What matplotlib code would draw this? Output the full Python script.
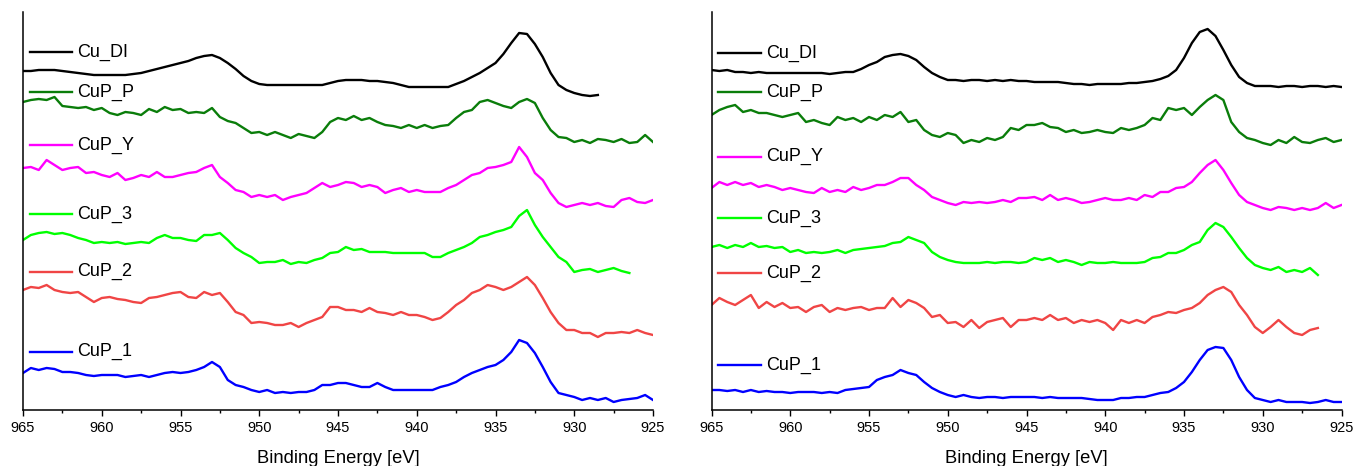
"""
XPS Cu 2p spectra, two panels, stacked with offsets.
"""

import numpy as np
import matplotlib
matplotlib.use('Agg')
import matplotlib.pyplot as plt

plt.rcParams['font.family'] = ['Liberation Sans', 'DejaVu Sans']

energy = np.linspace(965, 925, 81)

labels = ['Cu_DI', 'CuP_P', 'CuP_Y', 'CuP_3', 'CuP_2', 'CuP_1']
colors = ['#000000', '#0a7d0a', '#ff00ff', '#00ff00', '#f04545', '#0000ff']

# ---- left panel (intensity, a.u., stacked offset) ----
left_cu_di = [332, 332, 333, 333, 333, 332, 331, 330, 329, 328,
              328, 328, 328, 328, 329, 330, 332, 334, 336, 338,
              340, 342, 345, 347, 348, 345, 340, 334, 327, 322,
              319, 318, 318, 318, 318, 318, 318, 318, 318, 320,
              322, 323, 323, 323, 322, 322, 321, 320, 318, 316,
              316, 316, 316, 316, 316, 319, 322, 326, 330, 335,
              340, 349, 360, 370, 369, 359, 346, 330, 318, 313,
              310, 308, 307, 308]
left_cup_p = [301, 303, 304, 303, 306, 297, 296, 295, 296, 293,
              295, 290, 288, 291, 290, 288, 294, 291, 296, 293,
              294, 290, 291, 290, 295, 286, 282, 280, 275, 270,
              271, 268, 271, 268, 265, 269, 267, 265, 271, 281,
              285, 283, 287, 283, 285, 281, 278, 277, 275, 278,
              275, 278, 275, 277, 278, 285, 291, 293, 301, 303,
              300, 297, 295, 301, 304, 300, 285, 273, 266, 265,
              261, 263, 260, 264, 263, 261, 264, 260, 261, 268,
              261]
left_cup_y = [235, 236, 233, 243, 238, 233, 235, 236, 230, 231,
              228, 226, 230, 223, 225, 228, 226, 231, 226, 226,
              228, 230, 231, 235, 238, 226, 220, 213, 211, 206,
              208, 206, 208, 203, 206, 208, 210, 215, 220, 216,
              218, 221, 220, 216, 218, 216, 210, 213, 215, 211,
              213, 211, 211, 211, 215, 218, 223, 228, 230, 235,
              236, 238, 241, 256, 246, 230, 223, 210, 200, 196,
              198, 200, 198, 200, 197, 196, 203, 205, 201, 200,
              203]
left_cup_3 = [163, 168, 170, 171, 169, 170, 168, 165, 163, 160,
              161, 160, 161, 159, 160, 161, 160, 165, 168, 165,
              165, 163, 162, 168, 168, 170, 163, 155, 150, 146,
              140, 141, 141, 143, 139, 141, 140, 143, 145, 150,
              151, 156, 153, 154, 151, 151, 151, 150, 150, 150,
              150, 150, 146, 146, 150, 153, 156, 160, 166, 168,
              171, 173, 176, 187, 193, 178, 166, 156, 146, 141,
              131, 133, 134, 131, 133, 135, 132, 130]
left_cup_2 = [113, 116, 115, 118, 113, 111, 110, 111, 106, 101,
              105, 106, 104, 103, 101, 100, 105, 106, 108, 110,
              111, 106, 105, 111, 108, 110, 101, 91, 88, 80,
              81, 80, 78, 78, 80, 76, 80, 83, 86, 96,
              96, 93, 93, 91, 95, 91, 90, 88, 91, 88,
              88, 86, 83, 85, 91, 98, 103, 110, 113, 118,
              116, 113, 116, 121, 126, 118, 105, 91, 80, 73,
              73, 70, 70, 66, 70, 70, 71, 70, 73, 70,
              68]
left_cup_1 = [30, 35, 33, 35, 34, 31, 31, 30, 28, 27,
              28, 28, 28, 26, 27, 28, 26, 28, 30, 31,
              30, 31, 33, 36, 41, 36, 23, 18, 16, 13,
              11, 13, 10, 11, 10, 11, 11, 13, 18, 18,
              20, 20, 18, 16, 16, 20, 16, 13, 13, 13,
              13, 13, 13, 16, 18, 21, 26, 30, 33, 36,
              38, 43, 51, 63, 60, 50, 36, 21, 10, 8,
              6, 3, 5, 3, 5, 1, 3, 4, 5, 8,
              3]

# ---- right panel ----
right_cu_di = [333, 332, 333, 331, 331, 330, 331, 330, 330, 330,
               330, 330, 330, 330, 330, 329, 330, 331, 331, 334,
               338, 341, 346, 348, 349, 347, 343, 336, 330, 326,
               323, 323, 322, 323, 323, 322, 323, 322, 323, 322,
               322, 321, 321, 321, 321, 320, 319, 319, 318, 319,
               319, 319, 319, 320, 320, 321, 322, 324, 327, 333,
               345, 360, 371, 374, 367, 353, 338, 326, 320, 317,
               317, 317, 316, 317, 317, 316, 317, 317, 316, 317,
               316]
right_cup_p = [288, 293, 296, 298, 291, 293, 290, 290, 288, 286,
               288, 290, 281, 283, 280, 278, 286, 283, 285, 281,
               286, 283, 288, 286, 291, 281, 283, 273, 268, 266,
               270, 268, 260, 263, 261, 265, 263, 266, 275, 273,
               278, 278, 280, 276, 275, 271, 273, 270, 271, 273,
               271, 270, 275, 273, 275, 278, 285, 283, 295, 293,
               295, 288, 296, 303, 308, 303, 281, 271, 265, 263,
               260, 258, 263, 260, 266, 261, 260, 263, 265, 261,
               263]
right_cup_y = [215, 221, 218, 221, 218, 220, 216, 218, 216, 213,
               215, 213, 211, 210, 215, 211, 213, 211, 216, 213,
               215, 218, 218, 221, 225, 225, 218, 213, 206, 203,
               200, 198, 201, 200, 201, 200, 201, 203, 201, 205,
               205, 206, 203, 208, 203, 205, 203, 200, 201, 203,
               205, 203, 203, 205, 203, 208, 206, 211, 211, 215,
               216, 221, 230, 238, 243, 233, 220, 208, 201, 198,
               195, 193, 196, 195, 193, 195, 193, 195, 200, 195,
               198]
right_cup_3 = [156, 158, 155, 158, 156, 160, 156, 157, 155, 156,
               151, 153, 150, 151, 150, 151, 153, 150, 153, 154,
               155, 156, 157, 160, 161, 166, 163, 160, 151, 146,
               143, 141, 140, 140, 140, 141, 140, 141, 141, 140,
               141, 145, 143, 145, 141, 143, 141, 138, 141, 140,
               140, 141, 140, 140, 140, 141, 145, 146, 150, 150,
               153, 158, 161, 173, 180, 176, 166, 155, 145, 138,
               135, 133, 136, 131, 133, 131, 135, 128]
right_cup_2 = [98, 105, 101, 98, 103, 108, 95, 101, 96, 100,
               95, 96, 91, 96, 98, 91, 95, 93, 95, 96,
               93, 95, 95, 105, 96, 103, 100, 95, 86, 88,
               80, 81, 76, 83, 75, 81, 83, 85, 76, 83,
               83, 85, 83, 88, 83, 85, 80, 83, 81, 83,
               80, 73, 83, 80, 83, 80, 86, 88, 91, 90,
               93, 95, 100, 108, 113, 116, 111, 98, 88, 76,
               70, 76, 83, 76, 70, 68, 73, 75]
right_cup_1 = [13, 13, 12, 13, 11, 13, 11, 12, 11, 11,
               10, 11, 11, 11, 10, 11, 10, 13, 14, 15,
               16, 23, 26, 28, 33, 30, 28, 21, 15, 11,
               8, 6, 8, 6, 5, 6, 6, 5, 6, 6,
               6, 6, 5, 6, 5, 5, 5, 5, 4, 3,
               3, 3, 5, 5, 6, 6, 8, 10, 11, 15,
               21, 31, 43, 53, 56, 55, 43, 26, 13, 5,
               3, 1, 3, 1, 1, 1, 0, 1, 3, 1,
               1]

LEFT = [left_cu_di, left_cup_p, left_cup_y, left_cup_3, left_cup_2, left_cup_1]
RIGHT = [right_cu_di, right_cup_p, right_cup_y, right_cup_3, right_cup_2, right_cup_1]

# label heights (axes fraction) for the in-plot key of each panel
LEFT_KEY_Y = [0.899, 0.799, 0.666, 0.492, 0.347, 0.146]
RIGHT_KEY_Y = [0.897, 0.799, 0.636, 0.482, 0.344, 0.113]


def draw_panel(ax, spectra, key_y):
    for y, lab, col, ky in zip(spectra, labels, colors, key_y):
        ax.plot(energy[:len(y)], y, color=col, linewidth=1.7)
        ax.plot([0.011, 0.078], [ky, ky], color=col, linewidth=1.7,
                transform=ax.transAxes)
        ax.text(0.086, ky, lab, transform=ax.transAxes, va='center',
                ha='left', fontsize=13)
    ax.set_xlim(965, 925)
    ax.set_ylim(-7, 391)
    ax.set_xticks([965, 960, 955, 950, 945, 940, 935, 930, 925])
    ax.set_xticks(np.arange(962.5, 925, -5), minor=True)
    ax.set_yticks([])
    ax.tick_params(axis='x', which='major', length=4.3, width=1,
                   labelsize=10.5, pad=3.5)
    ax.tick_params(axis='x', which='minor', length=2, width=1)
    for side in ('top', 'right'):
        ax.spines[side].set_visible(False)
    for side in ('left', 'bottom'):
        ax.spines[side].set_linewidth(1.1)
    ax.set_xlabel('Binding Energy [eV]', fontsize=13.2, labelpad=11)


fig = plt.figure(figsize=(13.55, 4.66), dpi=100)
ax1 = fig.add_axes([23 / 1355, 56 / 466, 630 / 1355, 398 / 466])
ax2 = fig.add_axes([711.5 / 1355, 56 / 466, 630 / 1355, 398 / 466])
draw_panel(ax1, LEFT, LEFT_KEY_Y)
draw_panel(ax2, RIGHT, RIGHT_KEY_Y)

fig.savefig('out.png', dpi=100, facecolor='white')
